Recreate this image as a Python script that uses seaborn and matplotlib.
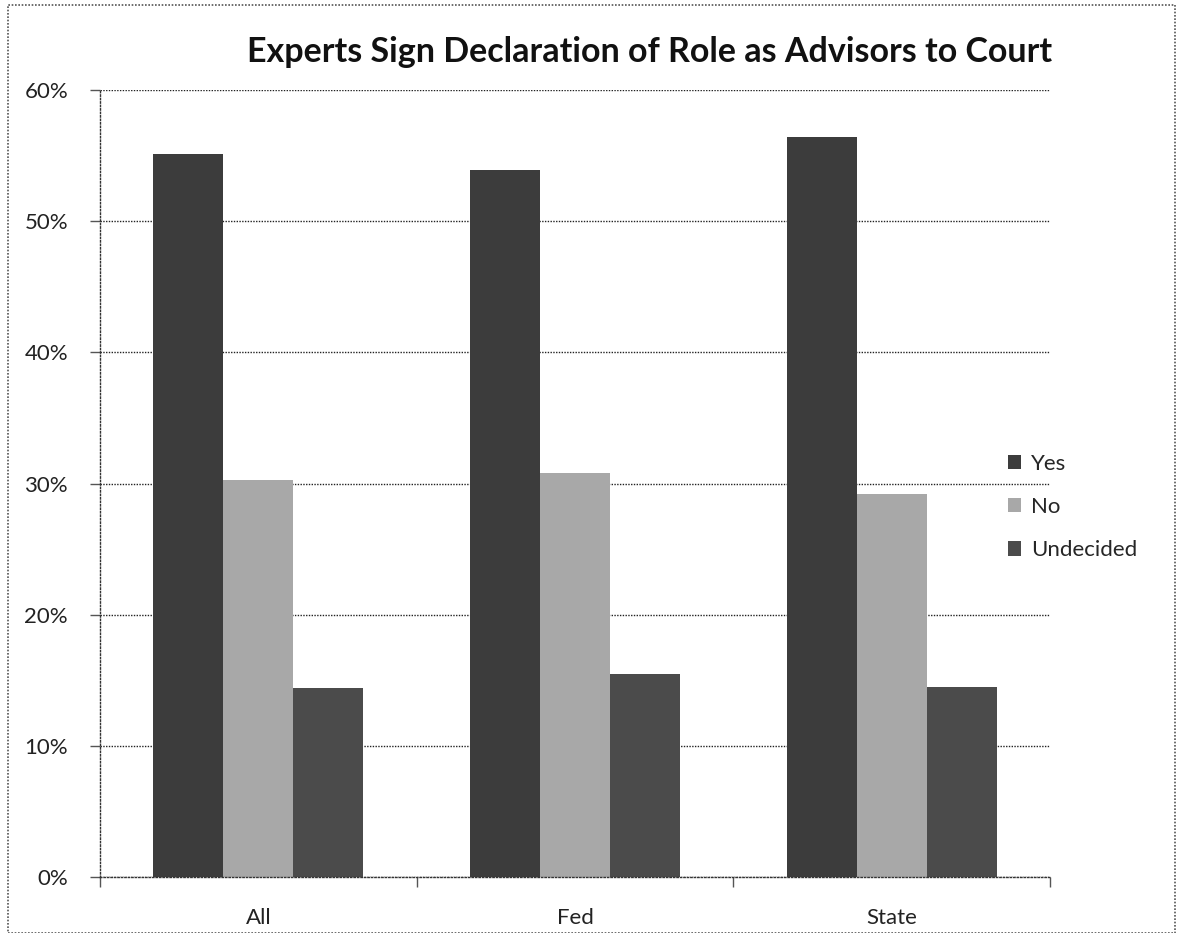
import matplotlib

matplotlib.use("Agg")

import matplotlib.pyplot as plt
import pandas as pd
import seaborn as sns
from matplotlib.patches import Patch, Rectangle
from matplotlib.ticker import FuncFormatter, FixedLocator

# values (percent)
categories = ["All", "Fed", "State"]
responses = ["Yes", "No", "Undecided"]
yes_pct = [55.1, 53.9, 56.4]
no_pct = [30.3, 30.8, 29.2]
undecided_pct = [14.4, 15.5, 14.5]
y_ticks = [0, 10, 20, 30, 40, 50, 60]

TITLE = "Experts Sign Declaration of Role as Advisors to Court"
COLORS = {"Yes": "#3c3c3c", "No": "#a8a8a8", "Undecided": "#4b4b4b"}
FONT = ["Lato", "DejaVu Sans"]


def build_frame() -> pd.DataFrame:
    rows = []
    for series, values in zip(responses, [yes_pct, no_pct, undecided_pct]):
        for cat, val in zip(categories, values):
            rows.append({"group": cat, "response": series, "pct": val})
    return pd.DataFrame(rows)


def main() -> None:
    sns.set_theme(style="white")
    plt.rcParams["font.family"] = FONT

    df = build_frame()
    fig = plt.figure(figsize=(11.77, 9.33), dpi=100)
    ax = fig.add_axes([0.085, 0.060, 0.807, 0.8435])

    sns.barplot(
        data=df, x="group", y="pct", hue="response",
        order=categories, hue_order=responses, palette=COLORS,
        width=0.663, saturation=1, linewidth=0, ax=ax, legend=False,
    )

    ax.set_ylim(0, 60)
    ax.set_xlim(-0.5, 2.5)
    ax.yaxis.set_major_locator(FixedLocator(y_ticks))
    ax.yaxis.set_major_formatter(FuncFormatter(lambda v, _: f"{v:.0f}%"))
    ax.grid(axis="y", color="#222222", linestyle=(0, (1, 1)), linewidth=1.0)
    ax.set_axisbelow(True)

    # category labels centred, tick marks on category boundaries
    ax.set_xticks(range(len(categories)))
    ax.set_xticklabels(categories)
    ax.set_xticks([-0.5, 0.5, 1.5, 2.5], minor=True)
    ax.tick_params(axis="x", which="major", length=0, pad=22, labelsize=16, colors="#222222")
    ax.tick_params(axis="x", which="minor", length=7, width=1, color="#555555", direction="out")
    ax.tick_params(axis="y", which="major", length=7, width=1, color="#555555",
                   direction="out", pad=16, labelsize=16, colors="#222222")
    ax.tick_params(axis="y", left=True)
    ax.tick_params(axis="x", which="minor", bottom=True)

    ax.set_xlabel("")
    ax.set_ylabel("")
    for side in ["top", "right"]:
        ax.spines[side].set_visible(False)
    for side in ["left", "bottom"]:
        ax.spines[side].set_color("#333333")
        ax.spines[side].set_linestyle((0, (1, 1.5)))
        ax.spines[side].set_linewidth(1.0)

    fig.text(0.552, 0.944, TITLE, ha="center", va="center",
             fontsize=24.5, fontweight="bold", color="#111111", family=FONT)

    handles = [Patch(facecolor=COLORS[r], edgecolor="none") for r in responses]
    fig.legend(
        handles, responses, loc="center left",
        bbox_to_anchor=(1008 / 1177, (933 - 507) / 933),
        frameon=False, fontsize=16, handlelength=0.6, handleheight=0.6,
        handletextpad=0.45, labelspacing=1.05, borderpad=0, borderaxespad=0,
    )

    # dotted chart-area border
    fig.patches.append(Rectangle(
        (8 / 1177, 0.0), 1167 / 1177, 928 / 933, transform=fig.transFigure,
        fill=False, edgecolor="#555555", linestyle=(0, (1, 1)), linewidth=1.2,
    ))

    fig.savefig("out.png", dpi=100)
    plt.close(fig)


if __name__ == "__main__":
    main()
